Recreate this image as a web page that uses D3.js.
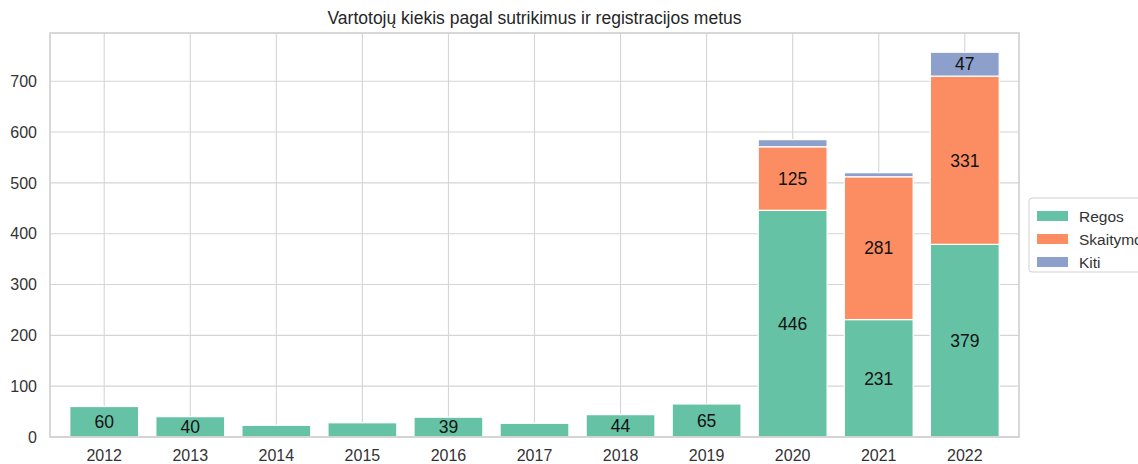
<!DOCTYPE html>
<html>
<head>
<meta charset="utf-8">
<script src="https://cdn.jsdelivr.net/npm/d3@7"></script>
<style>
  html, body { margin: 0; padding: 0; background: #fff; overflow: hidden; }
  svg { display: block; font-family: "Liberation Sans", Arial, sans-serif; }
</style>
</head>
<body>
<svg id="chart" width="1138" height="464"></svg>
<script>
// Registration years
const years = ["2012","2013","2014","2015","2016","2017","2018","2019","2020","2021","2022"];
// Users per disorder group
const regos     = [60, 40, 23, 28, 39, 27, 44, 65, 446, 231, 379];
const skaitymo  = [0, 0, 0, 0, 0, 0, 0, 0, 125, 281, 331];
const kiti      = [0, 0, 0, 0, 0, 0, 0, 0, 14, 8, 47];
const seriesNames = ["Regos", "Skaitymo sutrikimai", "Kiti"];
const seriesColors = ["#66c2a5", "#fc8d62", "#8da0cb"];
const yTicks = [0, 100, 200, 300, 400, 500, 600, 700];
const titleText = "Vartotojų kiekis pagal sutrikimus ir registracijos metus";
const labelMin = 30;

const svg = d3.select("#chart");
const m = { left: 50, right: 1019, top: 33, bottom: 437 };

const rows = years.map((y, i) => ({ year: y, Regos: regos[i], "Skaitymo sutrikimai": skaitymo[i], Kiti: kiti[i] }));
const stack = d3.stack().keys(seriesNames)(rows);
const maxTotal = d3.max(rows, r => r.Regos + r["Skaitymo sutrikimai"] + r.Kiti);

// Category axis: centers spaced evenly, with matplotlib-like outer margins
const n = years.length;
const xIdx = d3.scaleLinear().domain([-0.63, n - 1 + 0.63]).range([m.left, m.right]);
const barW = (xIdx(1) - xIdx(0)) * 0.8;
const y = d3.scaleLinear().domain([0, maxTotal * 1.05]).range([m.bottom, m.top]);

// Grid
const grid = svg.append("g");
grid.selectAll("line.h").data(yTicks).join("line")
  .attr("x1", m.left).attr("x2", m.right)
  .attr("y1", d => y(d)).attr("y2", d => y(d))
  .attr("stroke", "#d5d5d5").attr("stroke-width", 1.1);
grid.selectAll("line.v").data(years).join("line")
  .attr("x1", (d, i) => xIdx(i)).attr("x2", (d, i) => xIdx(i))
  .attr("y1", m.top).attr("y2", m.bottom)
  .attr("stroke", "#d5d5d5").attr("stroke-width", 1.1);

// Stacked bars
const layers = svg.append("g").selectAll("g").data(stack).join("g")
  .attr("fill", (d, i) => seriesColors[i]);
layers.selectAll("rect").data(d => d.filter(s => s[1] - s[0] > 0)).join("rect")
  .attr("x", d => xIdx(years.indexOf(d.data.year)) - barW / 2)
  .attr("width", barW)
  .attr("y", d => y(d[1]))
  .attr("height", d => y(d[0]) - y(d[1]))
  .attr("stroke", "#fff").attr("stroke-width", 1.2);

// Value labels
const labels = svg.append("g");
stack.forEach(layer => {
  layer.forEach(s => {
    const v = s[1] - s[0];
    if (v >= labelMin) {
      labels.append("text")
        .attr("x", xIdx(years.indexOf(s.data.year)))
        .attr("y", y((s[0] + s[1]) / 2))
        .attr("dy", "0.36em")
        .attr("text-anchor", "middle")
        .attr("font-size", 17.5)
        .attr("fill", "#111")
        .text(v);
    }
  });
});

// Frame
svg.append("rect")
  .attr("x", m.left).attr("y", m.top)
  .attr("width", m.right - m.left).attr("height", m.bottom - m.top)
  .attr("fill", "none").attr("stroke", "#cfcfcf").attr("stroke-width", 1.6);

// Y tick labels
svg.append("g").selectAll("text").data(yTicks).join("text")
  .attr("x", 37).attr("y", d => y(d)).attr("dy", "0.36em")
  .attr("text-anchor", "end").attr("font-size", 16).attr("fill", "#333")
  .text(d => d);

// X tick labels
svg.append("g").selectAll("text").data(years).join("text")
  .attr("x", (d, i) => xIdx(i)).attr("y", 455).attr("dy", "0.36em")
  .attr("text-anchor", "middle").attr("font-size", 16).attr("fill", "#333")
  .text(d => d);

// Title
svg.append("text")
  .attr("x", (m.left + m.right) / 2).attr("y", 18).attr("dy", "0.36em")
  .attr("text-anchor", "middle").attr("font-size", 17.5).attr("fill", "#262626")
  .text(titleText);

// Legend
const lg = svg.append("g").attr("transform", "translate(1029,198)");
lg.append("rect").attr("x", 0).attr("y", 0).attr("width", 200).attr("height", 74)
  .attr("rx", 3).attr("fill", "#fff").attr("stroke", "#d0d0d0");
seriesNames.forEach((name, i) => {
  const row = lg.append("g").attr("transform", `translate(0,${13 + i * 23})`);
  row.append("rect").attr("x", 8).attr("y", 0).attr("width", 31).attr("height", 10)
    .attr("fill", seriesColors[i]);
  row.append("text").attr("x", 50).attr("y", 5).attr("dy", "0.36em")
    .attr("font-size", 15.5).attr("fill", "#333").text(name);
});
</script>
</body>
</html>
